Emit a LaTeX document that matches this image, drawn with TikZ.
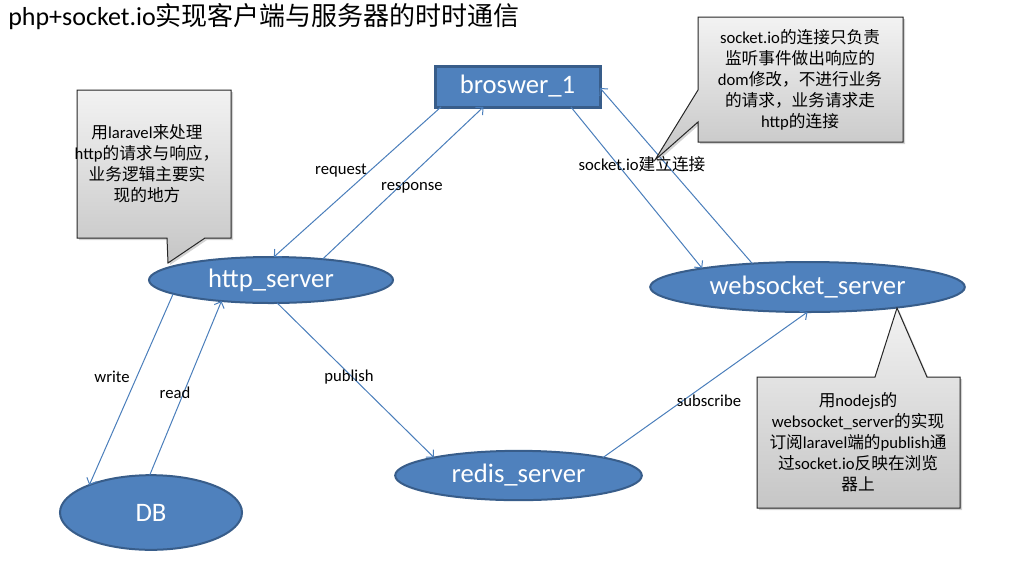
\documentclass[tikz,border=0pt]{standalone}
\usepackage{fontspec}
\setmainfont{Carlito}
\newfontfamily\cjk{Noto Sans CJK SC}
\usetikzlibrary{shapes.geometric,arrows.meta,shadows}
\definecolor{nodeblue}{HTML}{4F81BD}
\definecolor{nodeedge}{HTML}{385D8A}
\definecolor{linkblue}{HTML}{4A7EBB}

\begin{document}
\begin{tikzpicture}[x=0.75pt,y=-0.75pt,
  server/.style={ellipse,draw=nodeedge,line width=1.5pt,fill=nodeblue,text=white,
    inner sep=0pt,outer sep=0pt,font=\fontsize{20}{24}\selectfont},
  client/.style={rectangle,draw=nodeedge,line width=2.25pt,fill=nodeblue,text=white,
    inner sep=0pt,outer sep=0pt,font=\fontsize{20}{24}\selectfont},
  link/.style={draw=linkblue,line width=0.75pt,-{Straight Barb[length=4pt,width=8pt]}},
  tag/.style={inner sep=0pt,font=\fontsize{12.5}{15}\selectfont},
  note/.style={draw=black!85,line width=0.75pt,top color=gray!10,bottom color=gray!45,
    drop shadow={shadow xshift=1.5pt,shadow yshift=-1.5pt,opacity=0.35}},
  notetext/.style={align=center,inner sep=0pt,font=\fontsize{12.5}{15.75}\selectfont}]
  \useasboundingbox (0,0) rectangle (1034,579);

  \node[anchor=west,inner sep=0pt,font=\fontsize{19.5}{24}\selectfont] (title) at (8,17)
    {php+socket.io{\cjk 实现客户端与服务器的时时通信}};

  % servers and client
  \node[client,minimum width=123.75pt,minimum height=30.75pt] (broswer) at (517.5,86.5) {broswer\_1};
  \node[server,minimum width=183pt,minimum height=34.5pt] (http) at (271,280) {http\_server};
  \node[server,minimum width=236pt,minimum height=37.5pt] (websocket) at (807.5,287) {websocket\_server};
  \node[server,minimum width=185pt,minimum height=37pt] (redis) at (518.5,475.5) {redis\_server};
  \node[server,minimum width=136.5pt,minimum height=56pt] (db) at (151,512.5) {DB};

  % connections
  \draw[link] (broswer.195) -- (http.83);
  \draw[link] (http.22) -- (broswer.211);
  \draw[link] (broswer.339) -- (websocket.170);
  \draw[link] (websocket.157) -- (broswer.359);
  \draw[link] (http.188) -- (db.156);
  \draw[link] (db.92) -- (http.203);
  \draw[link] (http.285) -- (redis.168);
  \draw[link] (redis.12) -- (websocket.270);

  \node[tag] (request) at (341,171) {request};
  \node[tag] (response) at (412,188) {response};
  \node[tag] (sio) at (642,164) {socket.io{\cjk 建立连接}};
  \node[tag] (write) at (112,377) {write};
  \node[tag] (read) at (175,393) {read};
  \node[tag] (publish) at (349,377) {publish};
  \node[tag] (subscribe) at (709,401) {subscribe};

  % callouts
  \path[note] (77,90) -- (231,90) -- (231,238) -- (205,238) -- (168,263) -- (167,238)
    -- (77,238) -- cycle;
  \node[notetext] (laravelnote) at (147,164)
    {{\cjk 用}laravel{\cjk 来处理}\\http{\cjk 的请求与响应，}\\{\cjk 业务逻辑主要实}\\{\cjk 现的地方}};

  \path[note] (698,17) -- (903,17) -- (903,142) -- (698,142) -- (698,122) -- (655,160)
    -- (698,90) -- cycle;
  \node[notetext] (socketnote) at (800,80)
    {socket.io{\cjk 的连接只负责}\\{\cjk 监听事件做出响应的}\\dom{\cjk 修改，不进行业务}\\{\cjk 的请求，业务请求走}\\http{\cjk 的连接}};

  \path[note] (757,377) -- (875,377) -- (897,308) -- (927,377) -- (960,377) -- (960,508)
    -- (757,508) -- cycle;
  \node[notetext] (nodejsnote) at (858,442)
    {{\cjk 用}nodejs{\cjk 的}\\websocket\_server{\cjk 的实现}\\{\cjk 订阅}laravel{\cjk 端的}publish{\cjk 通}\\{\cjk 过}socket.io{\cjk 反映在浏览}\\{\cjk 器上}};
\end{tikzpicture}
\end{document}
